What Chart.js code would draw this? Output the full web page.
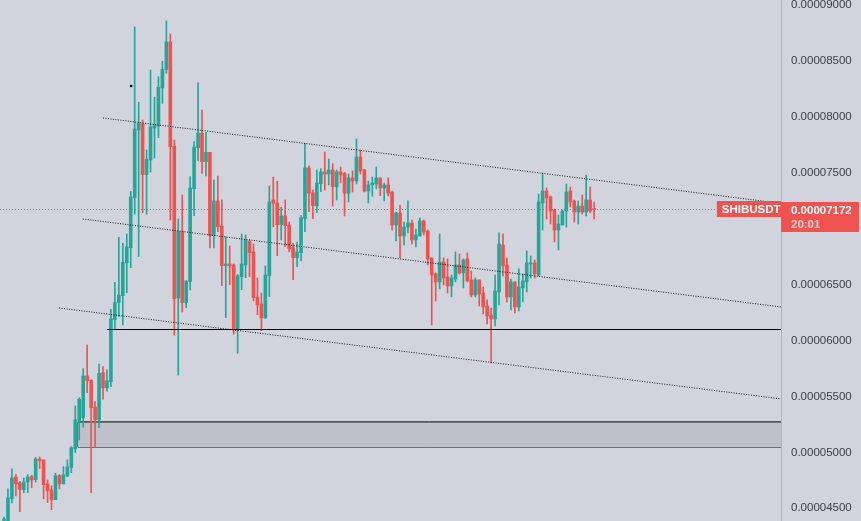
<!DOCTYPE html>
<html>
<head>
<meta charset="utf-8">
<script src="https://cdn.jsdelivr.net/npm/chart.js@4.4.0/dist/chart.umd.min.js"></script>
<style>
html,body{margin:0;padding:0;background:#d1d4dc;}
canvas{display:block;}
</style>
</head>
<body>
<canvas id="chart" width="861" height="521"></canvas>
<script>
// SHIBUSDT candles, prices in units of 1e-8 USDT
const openP = [
  4390,4385,4586,4780,4727,4667,4735,4783,4756,4941,
  4932,4718,4664,4577,4792,4718,4789,4864,5031,5284,
  5310,5683,5647,5406,5290,5713,5576,5632,6187,6342,
  6401,6696,6830,7277,7882,7936,7483,7614,7900,7918,
  8258,8425,8669,7739,6380,6973,6339,6527,7358,7724,
  7853,7599,7683,6937,7248,7024,6669,6685,6676,6100,
  6571,6676,6884,6792,6389,6327,6202,6580,7257,7230,
  7036,7114,7033,6830,6741,6786,7090,7543,7322,7206,
  7402,7507,7489,7525,7376,7507,7495,7317,7454,7427,
  7641,7525,7337,7391,7400,7454,7364,7391,7328,7033,
  7140,6935,7015,7051,6899,6935,7069,6979,6738,6595,
  6524,6702,6568,6488,6550,6676,6604,6729,6542,6407,
  6542,6425,6309,6229,6193,6434,6854,6676,6389,6524,
  6300,6470,6524,6685,6694,6586,7230,7337,7284,7167,
  6988,7033,7158,7337,7248,7149,7203,7149,7257,7176
];
const highP = [
  4420,4673,4852,4801,4738,4771,4800,4795,4953,4959,
  4932,4753,4702,4813,4801,4872,4932,5051,5415,5487,
  5748,5960,5647,5453,5790,5766,5737,6279,6521,6923,
  6869,6953,7334,8803,8130,7972,7704,8419,8175,8359,
  8497,8857,8741,7793,7087,7301,6533,7465,7778,8305,
  8061,7862,7683,7435,7471,7257,6928,6845,6685,6589,
  6953,6944,6899,6863,6559,6425,6667,7382,7462,7424,
  7191,7257,7060,6869,6881,7120,7763,7563,7346,7525,
  7537,7686,7623,7581,7525,7552,7504,7489,7516,7802,
  7704,7531,7427,7462,7552,7454,7409,7454,7337,7149,
  7212,7060,7248,7078,6997,7096,7078,6988,6738,6604,
  6953,6738,6729,6586,6792,6774,6729,6783,6622,6559,
  6542,6479,6363,6291,6586,6962,6953,6738,6550,6524,
  6640,6595,6801,6756,6720,7310,7498,7364,7293,7176,
  7123,7167,7400,7373,7257,7248,7301,7480,7373,7239
];
const lowP = [
  4380,4380,4548,4610,4470,4637,4640,4685,4735,4855,
  4584,4551,4487,4577,4673,4718,4783,4818,4998,5111,
  5224,5534,4640,5045,5221,5475,5546,5587,6095,6213,
  6139,6428,6651,7129,6750,7143,7129,7507,7632,7814,
  8121,8389,7078,6047,5692,6255,6294,6452,7116,7605,
  7495,7471,6828,6828,6973,6490,6205,6499,6056,5886,
  6454,6562,6571,6354,6231,6088,6196,6392,7018,6759,
  6899,6839,6795,6544,6660,6711,6973,7152,7090,7143,
  7331,7346,7391,7203,7257,7409,7114,7239,7328,7400,
  7489,7328,7230,7290,7355,7295,7248,7292,6988,6890,
  6738,6854,6962,6863,6836,6935,6944,6676,6139,6354,
  6461,6497,6425,6390,6524,6595,6470,6524,6390,6390,
  6309,6238,6148,5799,6130,6318,6577,6345,6273,6246,
  6264,6345,6434,6559,6559,6577,6988,7087,7042,6881,
  6810,7033,7015,7194,7060,7042,7131,7114,7140,7087
];
const closeP = [
  4405,4593,4771,4720,4667,4735,4780,4753,4941,4927,
  4711,4658,4575,4792,4718,4798,4870,5042,5290,5475,
  5683,5641,5400,5293,5707,5576,5641,6195,6342,6407,
  6700,6837,7284,7891,7942,7483,7620,7912,7933,8264,
  8425,8669,7733,6374,6973,6339,6533,7364,7730,7856,
  7599,7683,6937,7248,7018,6669,6685,6669,6094,6580,
  6685,6899,6786,6383,6318,6202,6586,7239,7227,7036,
  7114,7027,6821,6741,6792,7098,7543,7317,7206,7409,
  7507,7489,7525,7376,7507,7480,7317,7454,7427,7641,
  7516,7337,7391,7409,7454,7364,7391,7319,7033,7140,
  6935,7015,7051,6899,6944,7069,6970,6729,6586,6524,
  6702,6559,6488,6559,6676,6604,6720,6533,6407,6542,
  6416,6300,6220,6193,6443,6863,6667,6389,6524,6300,
  6479,6533,6694,6694,6595,7239,7337,7275,7158,6988,
  7042,7158,7328,7239,7149,7203,7149,7257,7158,7172
];
const yTicks = [4500,5000,5500,6000,6500,7000,7500,8000,8500,9000];

// drawings: [startIndex, startPrice, endIndex, endPrice]
const trendLines = [
  [25, 7990, 192.9, 7241],
  [19.9, 7087, 196.2, 6300],
  [13.9, 6291, 196.2, 5478]
];
const levelLine = [26, 6103];           // start index, price
const zoneBox = [18.7, 5048, 5272];     // start index, low, high
const dotMark = [32.1, 8276];
const xEnd = 196.2;
const priceLineEnd = 180;               // index where the symbol tag begins
const symbol = "SHIBUSDT";
const countdown = "20:01";

const GREEN = "#26a69a", RED = "#ef5350";
const idx = openP.map((_, i) => i);
const colors = idx.map(i => closeP[i] >= openP[i] ? GREEN : RED);
const lastClose = closeP[closeP.length - 1];
const fmt = v => (v * 1e-8).toFixed(8);

const overlay = {
  id: "overlay",
  beforeDraw(chart) {
    const c = chart.ctx;
    c.save();
    c.fillStyle = "#d1d4dc";
    c.fillRect(0, 0, chart.width, chart.height);
    c.restore();
  },
  afterDatasetsDraw(chart) {
    const c = chart.ctx, xs = chart.scales.x, ys = chart.scales.y, a = chart.chartArea;
    const crisp = v => Math.round(v) + 0.5;
    c.save();

    // horizontal level
    const ly = crisp(ys.getPixelForValue(levelLine[1]));
    c.strokeStyle = "#000";
    c.lineWidth = 1;
    c.beginPath();
    c.moveTo(xs.getPixelForValue(levelLine[0]), ly);
    c.lineTo(a.right, ly);
    c.stroke();

    // last price line
    const py = crisp(ys.getPixelForValue(lastClose));
    const pEnd = xs.getPixelForValue(priceLineEnd);
    c.strokeStyle = RED;
    c.setLineDash([1, 2]);
    c.beginPath();
    c.moveTo(0, py);
    c.lineTo(pEnd, py);
    c.stroke();
    c.setLineDash([]);

    // symbol tag
    const tagY = py - 0.5;
    c.fillStyle = RED;
    c.fillRect(pEnd, tagY - 8, a.right - pEnd, 16);
    c.fillStyle = "#fff";
    c.font = "bold 11.5px 'Liberation Sans', Arial, sans-serif";
    c.textBaseline = "middle";
    c.textAlign = "left";
    c.fillText(symbol, pEnd + 5, tagY + 1);

    // price tag on axis
    c.fillStyle = RED;
    c.fillRect(a.right, tagY - 7, 78, 30);
    c.fillStyle = "#fff";
    c.fillText(fmt(lastClose), a.right + 10, tagY + 1.5);
    c.fillStyle = "rgba(255,255,255,0.72)";
    c.fillText(countdown, a.right + 10, tagY + 15.5);
    c.restore();
  }
};

const datasets = [
  ...trendLines.map(t => ({
    type: "line",
    data: [{ x: t[0], y: t[1] }, { x: t[2], y: t[3] }],
    borderColor: "#15171c",
    borderWidth: 1,
    borderDash: [1, 1.5],
    pointRadius: 0,
    order: 0
  })),
  {
    type: "scatter",
    data: [{ x: dotMark[0], y: dotMark[1] }],
    pointRadius: 1.3,
    backgroundColor: "#000",
    borderWidth: 0,
    order: 0
  },
  {
    type: "bar",
    data: idx.map(i => ({ x: i, y: [openP[i], closeP[i]] })),
    backgroundColor: colors,
    barThickness: 3,
    minBarLength: 1,
    grouped: false,
    order: 1
  },
  {
    type: "bar",
    data: idx.map(i => ({ x: i, y: [lowP[i], highP[i]] })),
    backgroundColor: colors,
    barThickness: 1,
    grouped: false,
    order: 2
  },
  // zone: top edge filled down to bottom edge, plus left edge
  {
    type: "line",
    data: [{ x: zoneBox[0], y: zoneBox[2] }, { x: xEnd, y: zoneBox[2] }],
    borderColor: "#000",
    borderWidth: 1,
    pointRadius: 0,
    backgroundColor: "rgb(190,193,201)",
    fill: "+1",
    order: 3
  },
  {
    type: "line",
    data: [{ x: zoneBox[0], y: zoneBox[1] }, { x: xEnd, y: zoneBox[1] }],
    borderColor: "#000",
    borderWidth: 1,
    pointRadius: 0,
    fill: false,
    order: 3
  },
  {
    type: "line",
    data: [{ x: zoneBox[0], y: zoneBox[1] }, { x: zoneBox[0], y: zoneBox[2] }],
    borderColor: "#000",
    borderWidth: 1,
    pointRadius: 0,
    fill: false,
    order: 3
  }
];

new Chart(document.getElementById("chart"), {
  data: { datasets },
  options: {
    responsive: false,
    animation: false,
    events: [],
    layout: { padding: 0, autoPadding: false },
    plugins: { legend: { display: false }, tooltip: { enabled: false } },
    scales: {
      x: {
        type: "linear", min: -1.01, max: xEnd, display: false,
        offset: false, grid: { offset: false }
      },
      y: {
        type: "linear",
        position: "right",
        min: 4386,
        max: 9045,
        offset: false,
        afterBuildTicks: s => { s.ticks = yTicks.map(v => ({ value: v })); },
        afterFit: s => { s.width = 80; s.paddingTop = 0; s.paddingBottom = 0; },
        grid: { drawOnChartArea: false, drawTicks: false },
        border: { color: "#b2b5be" },
        ticks: {
          padding: 10,
          color: "#3b3e47",
          font: { family: "'Liberation Sans', Arial, sans-serif", size: 11.5 },
          callback: v => fmt(v)
        }
      }
    }
  },
  plugins: [overlay]
});
</script>
</body>
</html>
